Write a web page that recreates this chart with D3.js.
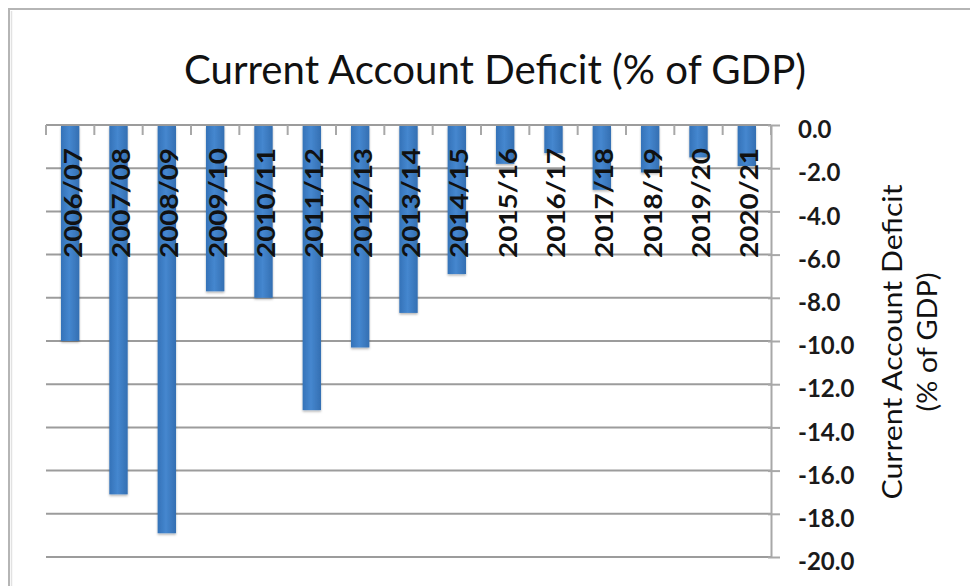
<!DOCTYPE html>
<html><head><meta charset="utf-8">
<script src="https://cdn.jsdelivr.net/npm/d3@7"></script>
<style>html,body{margin:0;padding:0;background:#fff;}svg{display:block;}</style>
</head><body>
<svg id="chart" width="970" height="586"></svg>
<script>
const categories = ["2006/07","2007/08","2008/09","2009/10","2010/11","2011/12","2012/13","2013/14","2014/15","2015/16","2016/17","2017/18","2018/19","2019/20","2020/21"];
const values = [-10.0,-17.1,-18.9,-7.7,-8.0,-13.2,-10.3,-8.7,-6.9,-1.8,-1.3,-3.0,-2.2,-1.5,-1.9];
const yTicks = [0,-2,-4,-6,-8,-10,-12,-14,-16,-18,-20];
const titleText = "Current Account Deficit (% of GDP)";
const yTitleLines = ["Current Account Deficit","(% of GDP)"];

(function(){
const svg = d3.select("#chart");
const font = "Lato, 'Open Sans', sans-serif";
const pL = 46, pR = 771, pT = 125, pB = 557;

const x = d3.scaleBand().domain(categories).range([pL, pR]).paddingInner(0.62).paddingOuter(0.31);
const y = d3.scaleLinear().domain([-20, 0]).range([pB, pT]);
const fmt = d3.formatLocale({decimal:".", thousands:",", grouping:[3], currency:["",""], minus:"-"}).format(".1f");

// frame
svg.append("rect").attr("x",9).attr("y",9).attr("width",1000).attr("height",1000)
  .attr("fill","none").attr("stroke","#b5b5b5").attr("stroke-width",2);
svg.append("line").attr("x1",11.5).attr("x2",11.5).attr("y1",11).attr("y2",586).attr("stroke","#e2e2e2").attr("stroke-width",1.5);

const defs = svg.append("defs");
const grad = defs.append("linearGradient").attr("id","barGrad").attr("x1",0).attr("x2",1).attr("y1",0).attr("y2",0);
grad.append("stop").attr("offset","0%").attr("stop-color","#3472b8");
grad.append("stop").attr("offset","45%").attr("stop-color","#4587cf");
grad.append("stop").attr("offset","100%").attr("stop-color","#346fb2");
const shadow = defs.append("filter").attr("id","sh").attr("x","-20%").attr("y","-5%").attr("width","140%").attr("height","115%");
shadow.append("feDropShadow").attr("dx",0).attr("dy",1.5).attr("stdDeviation",1.2).attr("flood-color","#000").attr("flood-opacity",0.3);

// gridlines
svg.append("g").selectAll("line").data(yTicks).join("line")
  .attr("x1", pL).attr("x2", pR)
  .attr("y1", d => y(d)).attr("y2", d => y(d))
  .attr("stroke", "#9c9c9c").attr("stroke-width", 2);

// category boundary ticks on top axis
const step = x.step();
const edges = categories.map(c => x(c) - (step - x.bandwidth())/2).concat([pR]);
svg.append("g").selectAll("line").data(edges).join("line")
  .attr("x1", d => d).attr("x2", d => d)
  .attr("y1", y(0)).attr("y2", y(0) + 10)
  .attr("stroke", "#a8a8a8").attr("stroke-width", 2);

// bars
svg.append("g").selectAll("rect").data(values).join("rect")
  .attr("x", (d,i) => x(categories[i]))
  .attr("width", x.bandwidth())
  .attr("y", y(0) + 1)
  .attr("height", d => y(d) - y(0) - 1)
  .attr("fill", "url(#barGrad)")
  .attr("filter", "url(#sh)");

// right axis
const yAxis = d3.axisRight(y).tickValues(yTicks).tickFormat(fmt).tickSize(9).tickSizeOuter(0).tickPadding(18);
const ag = svg.append("g").attr("transform", `translate(${pR},0)`).call(yAxis);
ag.select(".domain").attr("stroke", "#a8a8a8").attr("stroke-width", 2);
ag.selectAll(".tick line").attr("stroke", "#a8a8a8").attr("stroke-width", 2).attr("x1", -3);
ag.selectAll(".tick text").attr("font-family", font).attr("font-weight", "bold")
  .attr("font-size", 24).attr("fill", "#1a1a1a").attr("dy", "0.32em").attr("y", 5);

// category labels (rotated)
svg.append("g").selectAll("text").data(categories).join("text")
  .attr("transform", c => `translate(${x(c) + x.bandwidth()/2 + 2},258) rotate(-90)`)
  .attr("text-anchor", "start").attr("dominant-baseline", "central")
  .attr("font-family", font).attr("font-weight", "bold").attr("font-size", 24)
  .attr("textLength", 110).attr("lengthAdjust", "spacingAndGlyphs")
  .attr("fill", "#111").text(c => c);

// title
svg.append("text").attr("x", 495).attr("y", 84).attr("text-anchor", "middle")
  .attr("font-family", font).attr("font-size", 41).attr("fill", "#111")
  .attr("textLength", 622).attr("lengthAdjust", "spacingAndGlyphs")
  .text(titleText);

// y axis title
const yt = svg.append("g").attr("transform", "translate(893,342) rotate(-90)");
yt.append("text").attr("x", 0).attr("y", 0).attr("dy", "0.35em")
  .attr("text-anchor", "middle").attr("font-family", font).attr("font-size", 27).attr("fill", "#111")
  .attr("textLength", 315).attr("lengthAdjust", "spacingAndGlyphs").text(yTitleLines[0]);
yt.append("text").attr("x", 0).attr("y", 35).attr("dy", "0.35em")
  .attr("text-anchor", "middle").attr("font-family", font).attr("font-size", 27).attr("fill", "#111")
  .attr("textLength", 139).attr("lengthAdjust", "spacingAndGlyphs").text(yTitleLines[1]);
})();
</script>
</body></html>
